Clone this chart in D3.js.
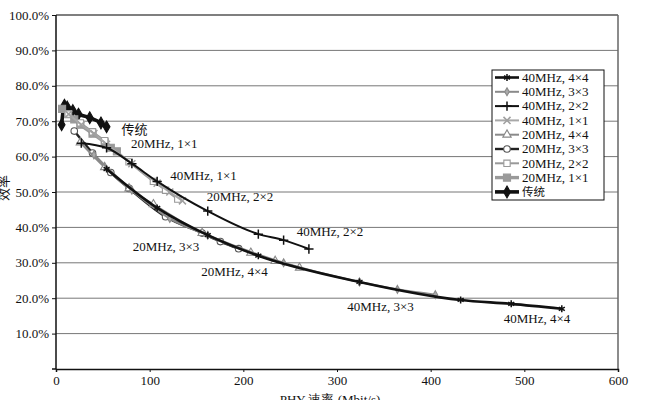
<!DOCTYPE html>
<html lang="zh">
<head>
<meta charset="utf-8">
<script src="https://d3js.org/d3.v7.min.js"></script>
<style>
body { margin: 0; background: #fff; }
svg text { font-family: "Liberation Serif", "DejaVu Serif", serif; fill: #111; }
.cjk { font-family: "Noto Sans CJK SC", sans-serif; }
</style>
</head>
<body>
<script>
// chart data: PHY rate (Mbit/s) and efficiency for each configuration
var seriesNames = ["40MHz, 4×4", "40MHz, 3×3", "40MHz, 2×2", "40MHz, 1×1",
  "20MHz, 4×4", "20MHz, 3×3", "20MHz, 2×2", "20MHz, 1×1", "传统"];

var rate40x4 = [54, 108, 162, 216, 324, 432, 486, 540];
var eff40x4 = [0.565, 0.455, 0.378, 0.32, 0.246, 0.195, 0.184, 0.17];

var rate40x3 = [40.5, 81, 121.5, 162, 243, 324, 364.5, 405];
var eff40x3 = [0.605, 0.505, 0.425, 0.378, 0.30, 0.246, 0.225, 0.21];

var rate40x2 = [27, 54, 81, 108, 162, 216, 243, 270];
var eff40x2 = [0.638, 0.625, 0.58, 0.53, 0.446, 0.381, 0.364, 0.339];

var rate40x1 = [13.5, 27, 40.5, 54, 81, 108, 121.5, 135];
var eff40x1 = [0.72, 0.69, 0.665, 0.635, 0.58, 0.525, 0.50, 0.475];

var rate20x4 = [26, 52, 78, 104, 156, 208, 234, 260];
var eff20x4 = [0.64, 0.57, 0.51, 0.465, 0.384, 0.328, 0.305, 0.286];

var rate20x3 = [19.5, 39, 58.5, 78, 117, 156, 175.5, 195];
var eff20x3 = [0.672, 0.61, 0.555, 0.51, 0.43, 0.384, 0.36, 0.34];

var rate20x2 = [13, 26, 39, 52, 78, 104, 117, 130];
var eff20x2 = [0.72, 0.695, 0.67, 0.645, 0.585, 0.53, 0.505, 0.48];

var rate20x1 = [6.5, 13, 19.5, 26, 39, 52, 58.5, 65];
var eff20x1 = [0.735, 0.72, 0.705, 0.69, 0.665, 0.64, 0.625, 0.615];

var rateLegacy = [6, 9, 12, 18, 24, 36, 48, 54];
var effLegacy = [0.69, 0.745, 0.74, 0.73, 0.72, 0.71, 0.695, 0.684];

var xTicks = [0, 100, 200, 300, 400, 500, 600];
var yTicks = [0.1, 0.2, 0.3, 0.4, 0.5, 0.6, 0.7, 0.8, 0.9, 1.0];

// in-plot labels: [text, rate, efficiency]
var noteLabels = [
  ["传统", 70, 0.665],
  ["20MHz, 1×1", 80, 0.625],
  ["40MHz, 1×1", 122, 0.535],
  ["20MHz, 2×2", 161, 0.475],
  ["40MHz, 2×2", 257, 0.375],
  ["20MHz, 3×3", 82, 0.333],
  ["20MHz, 4×4", 155, 0.262],
  ["40MHz, 3×3", 311, 0.163],
  ["40MHz, 4×4", 478, 0.130]
];

var width = 648, height = 400;

var x = d3.scaleLinear().domain([0, 600]).range([56, 618]);
var y = d3.scaleLinear().domain([0, 1]).range([369, 15]);

var svg = d3.select("body").append("svg")
  .attr("width", width)
  .attr("height", height);

// gridlines
svg.append("g").selectAll("line")
  .data(yTicks)
  .enter().append("line")
  .attr("x1", x(0)).attr("x2", x(600))
  .attr("y1", function(d) { return y(d); })
  .attr("y2", function(d) { return y(d); })
  .style("stroke", function(d) { return d === 1.0 ? "#555" : "#777"; })
  .style("stroke-width", function(d) { return d === 1.0 ? 1.5 : 1; });

// right frame
svg.append("line")
  .attr("x1", x(600)).attr("x2", x(600))
  .attr("y1", y(1)).attr("y2", y(0))
  .style("stroke", "#666").style("stroke-width", 1.5);

// axes
var yAxis = d3.axisLeft(y).tickValues(yTicks).tickSize(4).tickPadding(3)
  .tickFormat(function(d) { return (d * 100).toFixed(1) + "%"; });
var gy = svg.append("g").attr("transform", "translate(" + x(0) + ",0)").call(yAxis);
gy.select(".domain").attr("d", "M-4," + y(0) + "H0V" + y(1)).style("stroke", "#111").style("stroke-width", 1.5);

var xAxis = d3.axisBottom(x).tickValues(xTicks).tickSize(3).tickPadding(4);
var gx = svg.append("g").attr("transform", "translate(0," + y(0) + ")").call(xAxis);
gx.select(".domain").style("stroke", "#111").style("stroke-width", 1.5);

svg.selectAll(".tick text").style("font-family", "'Liberation Serif', serif").style("font-size", "13px").style("fill", "#111");
svg.selectAll(".tick line").style("stroke", "#111");

// axis titles (partly off the page, as in the picture)
svg.append("text").attr("class", "cjk")
  .attr("transform", "translate(8,188) rotate(-90)")
  .attr("text-anchor", "middle")
  .style("font-size", "13px")
  .text("效率");

svg.append("text")
  .attr("x", 330).attr("y", 404)
  .attr("text-anchor", "middle")
  .style("font-size", "13px")
  .text("PHY 速率 (Mbit/s)");

// series styles
var series = [
  { name: seriesNames[0], r: rate40x4, e: eff40x4, color: "#111", w: 2.6, mark: "asterisk", mcol: "#111", fill: "none", ms: 34 },
  { name: seriesNames[1], r: rate40x3, e: eff40x3, color: "#8a8a8a", w: 2, mark: "diamond", mcol: "#8a8a8a", fill: "#aaa", ms: 18 },
  { name: seriesNames[2], r: rate40x2, e: eff40x2, color: "#111", w: 2, mark: "plus", mcol: "#111", fill: "none", ms: 30 },
  { name: seriesNames[3], r: rate40x1, e: eff40x1, color: "#a8a8a8", w: 2, mark: "times", mcol: "#a0a0a0", fill: "none", ms: 34 },
  { name: seriesNames[4], r: rate20x4, e: eff20x4, color: "#8a8a8a", w: 2, mark: "triangle", mcol: "#888", fill: "#fff", ms: 30 },
  { name: seriesNames[5], r: rate20x3, e: eff20x3, color: "#222", w: 2.4, mark: "circle", mcol: "#555", fill: "#fff", ms: 34 },
  { name: seriesNames[6], r: rate20x2, e: eff20x2, color: "#999", w: 2, mark: "square", mcol: "#999", fill: "#fff", ms: 40 },
  { name: seriesNames[7], r: rate20x1, e: eff20x1, color: "#9a9a9a", w: 3.4, mark: "square", mcol: "#999", fill: "#9a9a9a", ms: 50 },
  { name: seriesNames[8], r: rateLegacy, e: effLegacy, color: "#111", w: 3.6, mark: "diamond", mcol: "#111", fill: "#111", ms: 40 }
];

var symbolTypes = {
  asterisk: d3.symbolAsterisk || d3.symbolCross,
  plus: d3.symbolPlus || d3.symbolCross,
  times: d3.symbolTimes || d3.symbolCross,
  diamond: d3.symbolDiamond,
  triangle: d3.symbolTriangle,
  circle: d3.symbolCircle,
  square: d3.symbolSquare
};
var strokeOnly = { asterisk: true, plus: true, times: true };

var line = d3.line()
  .x(function(d) { return x(d[0]); })
  .y(function(d) { return y(d[1]); })
  .curve(d3.curveMonotoneX);

function drawMark(sel, s) {
  sel.attr("d", d3.symbol().type(symbolTypes[s.mark]).size(s.ms))
    .style("fill", strokeOnly[s.mark] ? "none" : s.fill)
    .style("stroke", s.mcol)
    .style("stroke-width", strokeOnly[s.mark] ? 1.5 : 1.1);
}

// draw in reverse order so the first series sits on top
series.slice().reverse().forEach(function(s) {
  var pts = s.r.map(function(v, i) { return [v, s.e[i]]; });
  var g = svg.append("g");
  g.append("path")
    .datum(pts)
    .attr("d", line)
    .style("fill", "none")
    .style("stroke", s.color)
    .style("stroke-width", s.w)
    .style("stroke-linejoin", "round");
  g.selectAll("path.m")
    .data(pts)
    .enter().append("path")
    .attr("class", "m")
    .attr("transform", function(d) { return "translate(" + x(d[0]) + "," + y(d[1]) + ")"; })
    .call(drawMark, s);
});

// in-plot labels
svg.append("g").selectAll("text")
  .data(noteLabels)
  .enter().append("text")
  .attr("class", function(d) { return d[0] === "传统" ? "cjk" : null; })
  .attr("x", function(d) { return x(d[1]); })
  .attr("y", function(d) { return y(d[2]); })
  .style("font-size", "13px")
  .text(function(d) { return d[0]; });

// legend
var lx = 492, ly = 70, lw = 112, lh = 130, step = 14.3;
var legend = svg.append("g");
legend.append("rect")
  .attr("x", lx).attr("y", ly).attr("width", lw).attr("height", lh)
  .style("fill", "#fff").style("stroke", "#111").style("stroke-width", 1);

series.forEach(function(s, i) {
  var cy = ly + 7.5 + i * step;
  legend.append("line")
    .attr("x1", lx + 3).attr("x2", lx + 27)
    .attr("y1", cy).attr("y2", cy)
    .style("stroke", s.color).style("stroke-width", s.w);
  legend.append("path")
    .attr("transform", "translate(" + (lx + 15) + "," + cy + ")")
    .call(drawMark, s);
  legend.append("text")
    .attr("class", s.name === "传统" ? "cjk" : null)
    .attr("x", lx + 30).attr("y", cy + 4.3)
    .style("font-size", s.name === "传统" ? "11.5px" : "13px")
    .text(s.name);
});
</script>
</body>
</html>
